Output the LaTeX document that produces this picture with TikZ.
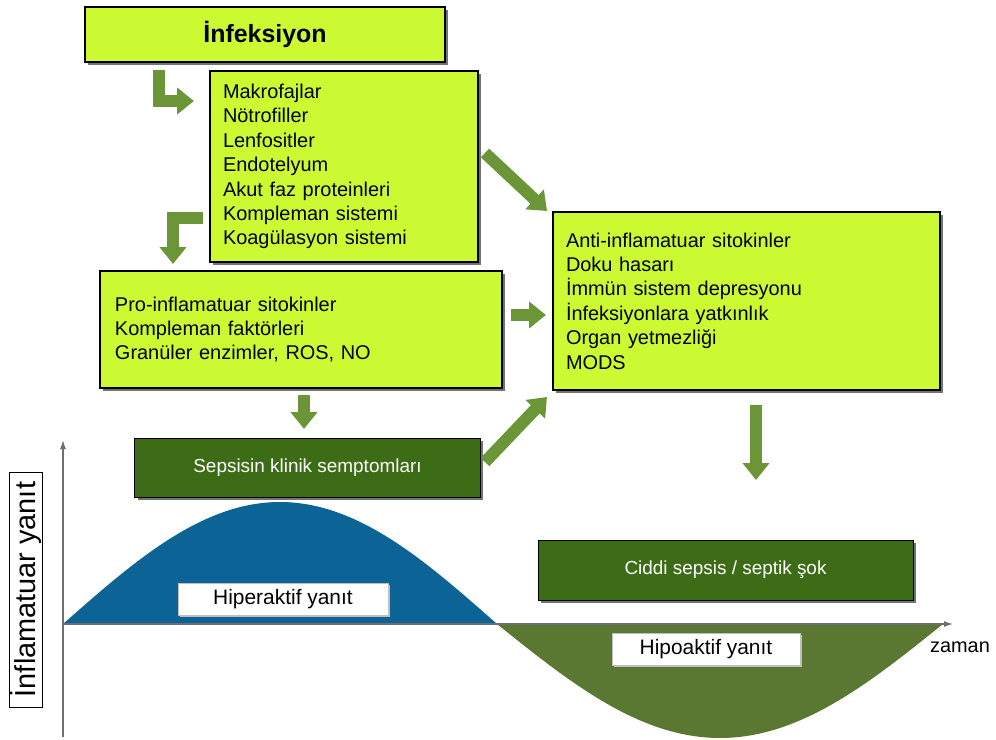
\documentclass[tikz,border=0pt]{standalone}
\usepackage{fontspec}
\setmainfont{Liberation Sans}
\usetikzlibrary{arrows.meta,shadows}
\definecolor{limec}{RGB}{204,250,50}
\definecolor{darkg}{RGB}{60,108,22}
\definecolor{arrg}{RGB}{107,150,55}
\definecolor{bluec}{RGB}{12,100,150}
\definecolor{olivec}{RGB}{90,120,50}
\definecolor{axisc}{RGB}{110,110,110}
\begin{document}
\begin{tikzpicture}[x=1bp,y=-1bp,
  boxshadow/.style={drop shadow={shadow xshift=3bp,shadow yshift=-3bp,fill=black!55,opacity=1}},
  litebox/.style={draw=black,line width=1.2bp,fill=limec,boxshadow,inner sep=0pt},
  listbox/.style={litebox,align=left,inner xsep=13bp,font=\fontsize{20}{24.5}\selectfont},
  darkbox/.style={draw=black,line width=1bp,fill=darkg,boxshadow,text=white,inner sep=0pt,font=\fontsize{19}{22}\selectfont},
  whitebox/.style={draw=black!25,line width=0.6bp,fill=white,inner sep=0pt,font=\fontsize{21}{24}\selectfont,
    drop shadow={shadow xshift=2bp,shadow yshift=-2bp,fill=black!25,opacity=1}},
  barrow/.style={draw=arrg,line width=12bp,-{Triangle[width=26bp,length=17bp]}}
]
\useasboundingbox (0,0) rectangle (996,740);

% curves
\fill[bluec] plot[domain=63:497,samples=80] (\x,{624-122*sin((\x-63)/434*180)}) -- cycle;
\fill[olivec] plot[domain=497:943,samples=80] (\x,{624+114*sin((\x-497)/446*180)}) -- cycle;

% axes
\coordinate (ybot) at (63,737);
\coordinate (ytop) at (63,440);
\coordinate (xl) at (63,624);
\coordinate (xr) at (953,624);
\draw[axisc,line width=1.2bp,-{Latex[length=9bp,width=6bp]}] (ybot) -- (ytop);
\draw[axisc,line width=1.2bp,-{Latex[length=9bp,width=6bp]}] (xl) -- (xr);

% boxes
\node[litebox,minimum width=360bp,minimum height=55bp,font=\bfseries\fontsize{25}{28}\selectfont] (inf) at (265,34.5) {İnfeksiyon};
\node[listbox,text width=242bp,minimum height=191bp] (mak) at (344,166.5) {Makrofajlar\\Nötrofiller\\Lenfositler\\Endotelyum\\Akut faz proteinleri\\Kompleman sistemi\\Koagülasyon sistemi};
\node[listbox,inner xsep=15bp,text width=372bp,minimum height=117bp] (pro) at (301,329.5) {Pro-inflamatuar sitokinler\\Kompleman faktörleri\\Granüler enzimler, ROS, NO};
\node[listbox,text width=361bp,minimum height=178bp] (anti) at (746.5,301) {Anti-inflamatuar sitokinler\\Doku hasarı\\İmmün sistem depresyonu\\İnfeksiyonlara yatkınlık\\Organ yetmezliği\\MODS};
\node[darkbox,minimum width=345bp,minimum height=59bp] (sep) at (307.5,467.5) {Sepsisin klinik semptomları};
\node[darkbox,minimum width=375bp,minimum height=60bp] (cid) at (725.5,570) {Ciddi sepsis / septik şok};
\node[whitebox,minimum width=210bp,minimum height=32bp] (hip) at (283,599) {Hiperaktif yanıt};
\node[whitebox,minimum width=188bp,minimum height=32bp] (hipo) at (706,649) {Hipoaktif yanıt};
\node[draw=black,line width=1bp,fill=white,inner sep=0pt,rotate=90,minimum width=235bp,minimum height=32bp,font=\fontsize{29}{30}\selectfont] (ylab) at (26,589.5) {İnflamatuar yanıt};
\node[font=\fontsize{20}{22}\selectfont,inner sep=0pt] (zam) at (960,647) {zaman};

% block arrows
\coordinate (a1s) at (159,70);
\coordinate (a1e) at (194,101);
\coordinate (a2s) at (203,217.5);
\coordinate (a2e) at (173,264);
\coordinate (a3s) at (485,153);
\coordinate (a3e) at (547,211);
\coordinate (a4s) at (511,315);
\coordinate (a4e) at (546,315);
\coordinate (a5s) at (485,462);
\coordinate (a5e) at (547,397);
\coordinate (a6s) at (304,395);
\coordinate (a6e) at (304,429);
\coordinate (a7s) at (756,405);
\coordinate (a7e) at (756,480);
\draw[barrow,line join=miter] (a1s) |- (a1e);
\draw[barrow,line join=miter] (a2s) -| (a2e);
\draw[barrow] (a3s) -- (a3e);
\draw[barrow] (a4s) -- (a4e);
\draw[barrow] (a5s) -- (a5e);
\draw[barrow] (a6s) -- (a6e);
\draw[barrow] (a7s) -- (a7e);
\end{tikzpicture}
\end{document}
